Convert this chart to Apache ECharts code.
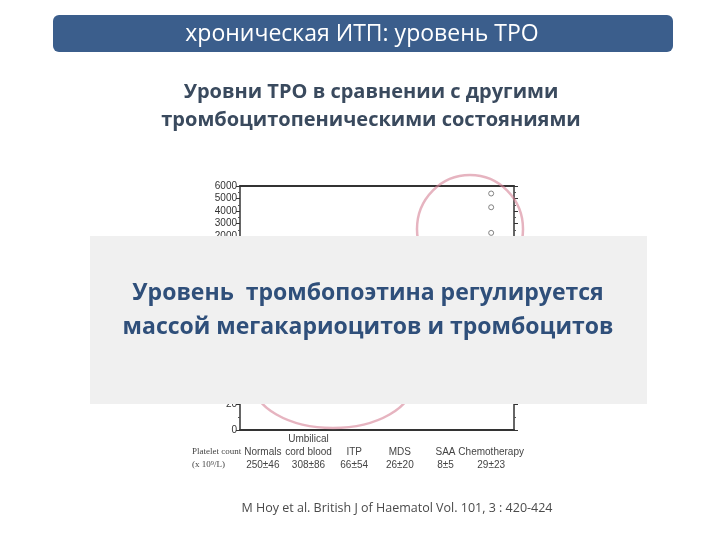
<!DOCTYPE html>
<html>
<head>
<meta charset="utf-8">
<script src="https://cdn.jsdelivr.net/npm/echarts@6/dist/echarts.min.js"></script>
<style>
  html, body { margin: 0; padding: 0; background: #fff; }
  #chart { width: 720px; height: 540px; }
</style>
</head>
<body>
<div id="chart"></div>
<script type="text/javascript">
// данные
var categories = ['Normals', 'cord blood', 'ITP', 'MDS', 'SAA', 'Chemotherapy'];
var catTopLine = ['', 'Umbilical', '', '', '', ''];
var plateletCounts = ['250±46', '308±86', '66±54', '26±20', '8±5', '29±23'];
var chemoHighValues = [5400, 4300, 2250]; // видимые точки над серой плашкой
var upperTicks = [2000, 6000, 1000]; // min, max, шаг
var lowerTicks = [0, 40, 20];

var myChart = echarts.init(document.getElementById('chart'));

var slideFont = '"Open Sans", "Noto Sans", sans-serif';
var plotFont = '"Liberation Sans", Arial, sans-serif';

var catLabels = categories.map(function (c, i) {
  return catTopLine[i] + '\n' + c + '\n' + plateletCounts[i];
});

var leftAxisCommon = {
  type: 'value',
  position: 'left',
  axisLine: { show: true, lineStyle: { color: '#333', width: 1.5 } },
  axisTick: { show: true, length: 4, lineStyle: { color: '#333' } },
  minorTick: { show: true, splitNumber: 2, length: 2, lineStyle: { color: '#555' } },
  axisLabel: { color: '#333', fontSize: 10, fontFamily: plotFont, margin: 3, formatter: function (v) { return String(v); } },
  splitLine: { show: false }
};
var rightAxisCommon = {
  type: 'value',
  position: 'right',
  axisLine: { show: true, lineStyle: { color: '#333', width: 1.5 } },
  axisTick: { show: true, length: 4, lineStyle: { color: '#333' } },
  minorTick: { show: true, splitNumber: 2, length: 2, lineStyle: { color: '#555' } },
  axisLabel: { show: false },
  splitLine: { show: false }
};

var option = {
  backgroundColor: '#fff',
  animation: false,
  grid: [
    { left: 240, right: 206, top: 186, height: 50 },
    { left: 240, right: 206, top: 378, height: 52 }
  ],
  xAxis: [
    {
      gridIndex: 0, type: 'category', data: categories, position: 'top',
      axisLine: { show: true, lineStyle: { color: '#333', width: 2 } },
      axisTick: { show: false }, axisLabel: { show: false }
    },
    {
      gridIndex: 1, type: 'category', data: categories, position: 'bottom',
      axisLine: { show: true, lineStyle: { color: '#333', width: 2 } },
      axisTick: { show: false },
      axisLabel: {
        interval: 0, color: '#444', fontSize: 10, fontFamily: plotFont,
        lineHeight: 13, margin: 3,
        formatter: function (v, i) { return catLabels[i]; }
      }
    }
  ],
  yAxis: [
    Object.assign({}, leftAxisCommon, { gridIndex: 0, min: upperTicks[0], max: upperTicks[1], interval: upperTicks[2] }),
    Object.assign({}, rightAxisCommon, { gridIndex: 0, min: upperTicks[0], max: upperTicks[1], interval: upperTicks[2] }),
    Object.assign({}, leftAxisCommon, { gridIndex: 1, min: lowerTicks[0], max: lowerTicks[1], interval: lowerTicks[2] }),
    Object.assign({}, rightAxisCommon, { gridIndex: 1, min: lowerTicks[0], max: lowerTicks[1], interval: lowerTicks[2] })
  ],
  series: [
    {
      type: 'scatter', xAxisIndex: 0, yAxisIndex: 0,
      symbol: 'circle', symbolSize: 5,
      itemStyle: { color: '#fff', borderColor: '#666', borderWidth: 1 },
      data: chemoHighValues.map(function (v) { return ['Chemotherapy', v]; })
    }
  ],
  graphic: [
    // заголовок слайда
    {
      type: 'rect', z: 10,
      shape: { x: 53, y: 15, width: 620, height: 37, r: 6 },
      style: { fill: '#3b5e8c' }
    },
    {
      type: 'text', z: 11, x: 362, y: 34,
      style: { text: 'хроническая ИТП: уровень ТРО', fill: '#fff', font: '23px ' + slideFont, align: 'center', verticalAlign: 'middle' }
    },
    {
      type: 'text', z: 11, x: 371, y: 92,
      style: { text: 'Уровни ТРО в сравнении с другими', fill: '#3a4a5e', font: 'bold 20px ' + slideFont, align: 'center', verticalAlign: 'middle' }
    },
    {
      type: 'text', z: 11, x: 371, y: 120,
      style: { text: 'тромбоцитопеническими состояниями', fill: '#3a4a5e', font: 'bold 20px ' + slideFont, align: 'center', verticalAlign: 'middle' }
    },
    // розовые круги от руки
    {
      type: 'ellipse', z: 20,
      shape: { cx: 470, cy: 229, rx: 53, ry: 54 },
      style: { fill: null, stroke: 'rgba(214,130,150,0.6)', lineWidth: 2.5 }
    },
    {
      type: 'ellipse', z: 20,
      shape: { cx: 333, cy: 382, rx: 80, ry: 46 },
      style: { fill: null, stroke: 'rgba(214,130,150,0.6)', lineWidth: 2.5 }
    },
    // серая плашка поверх графика
    {
      type: 'rect', z: 100,
      shape: { x: 90, y: 236, width: 557, height: 168 },
      style: { fill: '#f0f0f0' }
    },
    {
      type: 'text', z: 101, x: 368, y: 293,
      style: { text: 'Уровень  тромбопоэтина регулируется', fill: '#2f4f7a', font: 'bold 23px ' + slideFont, align: 'center', verticalAlign: 'middle' }
    },
    {
      type: 'text', z: 101, x: 368, y: 327,
      style: { text: 'массой мегакариоцитов и тромбоцитов', fill: '#2f4f7a', font: 'bold 23px ' + slideFont, align: 'center', verticalAlign: 'middle' }
    },
    // подписи слева под осью
    {
      type: 'text', z: 11, x: 192, y: 452,
      style: { text: 'Platelet count', fill: '#444', font: '9px "Liberation Serif", serif', align: 'left', verticalAlign: 'middle' }
    },
    {
      type: 'text', z: 11, x: 192, y: 465,
      style: { text: '(x 10⁹/L)', fill: '#444', font: '9px "Liberation Serif", serif', align: 'left', verticalAlign: 'middle' }
    },
    // источник
    {
      type: 'text', z: 11, x: 397, y: 508,
      style: { text: 'M Hoy et al. British J of Haematol Vol. 101, 3 : 420-424', fill: '#4a4a4a', font: '12.5px ' + slideFont, align: 'center', verticalAlign: 'middle' }
    }
  ]
};

myChart.setOption(option);
</script>
</body>
</html>
